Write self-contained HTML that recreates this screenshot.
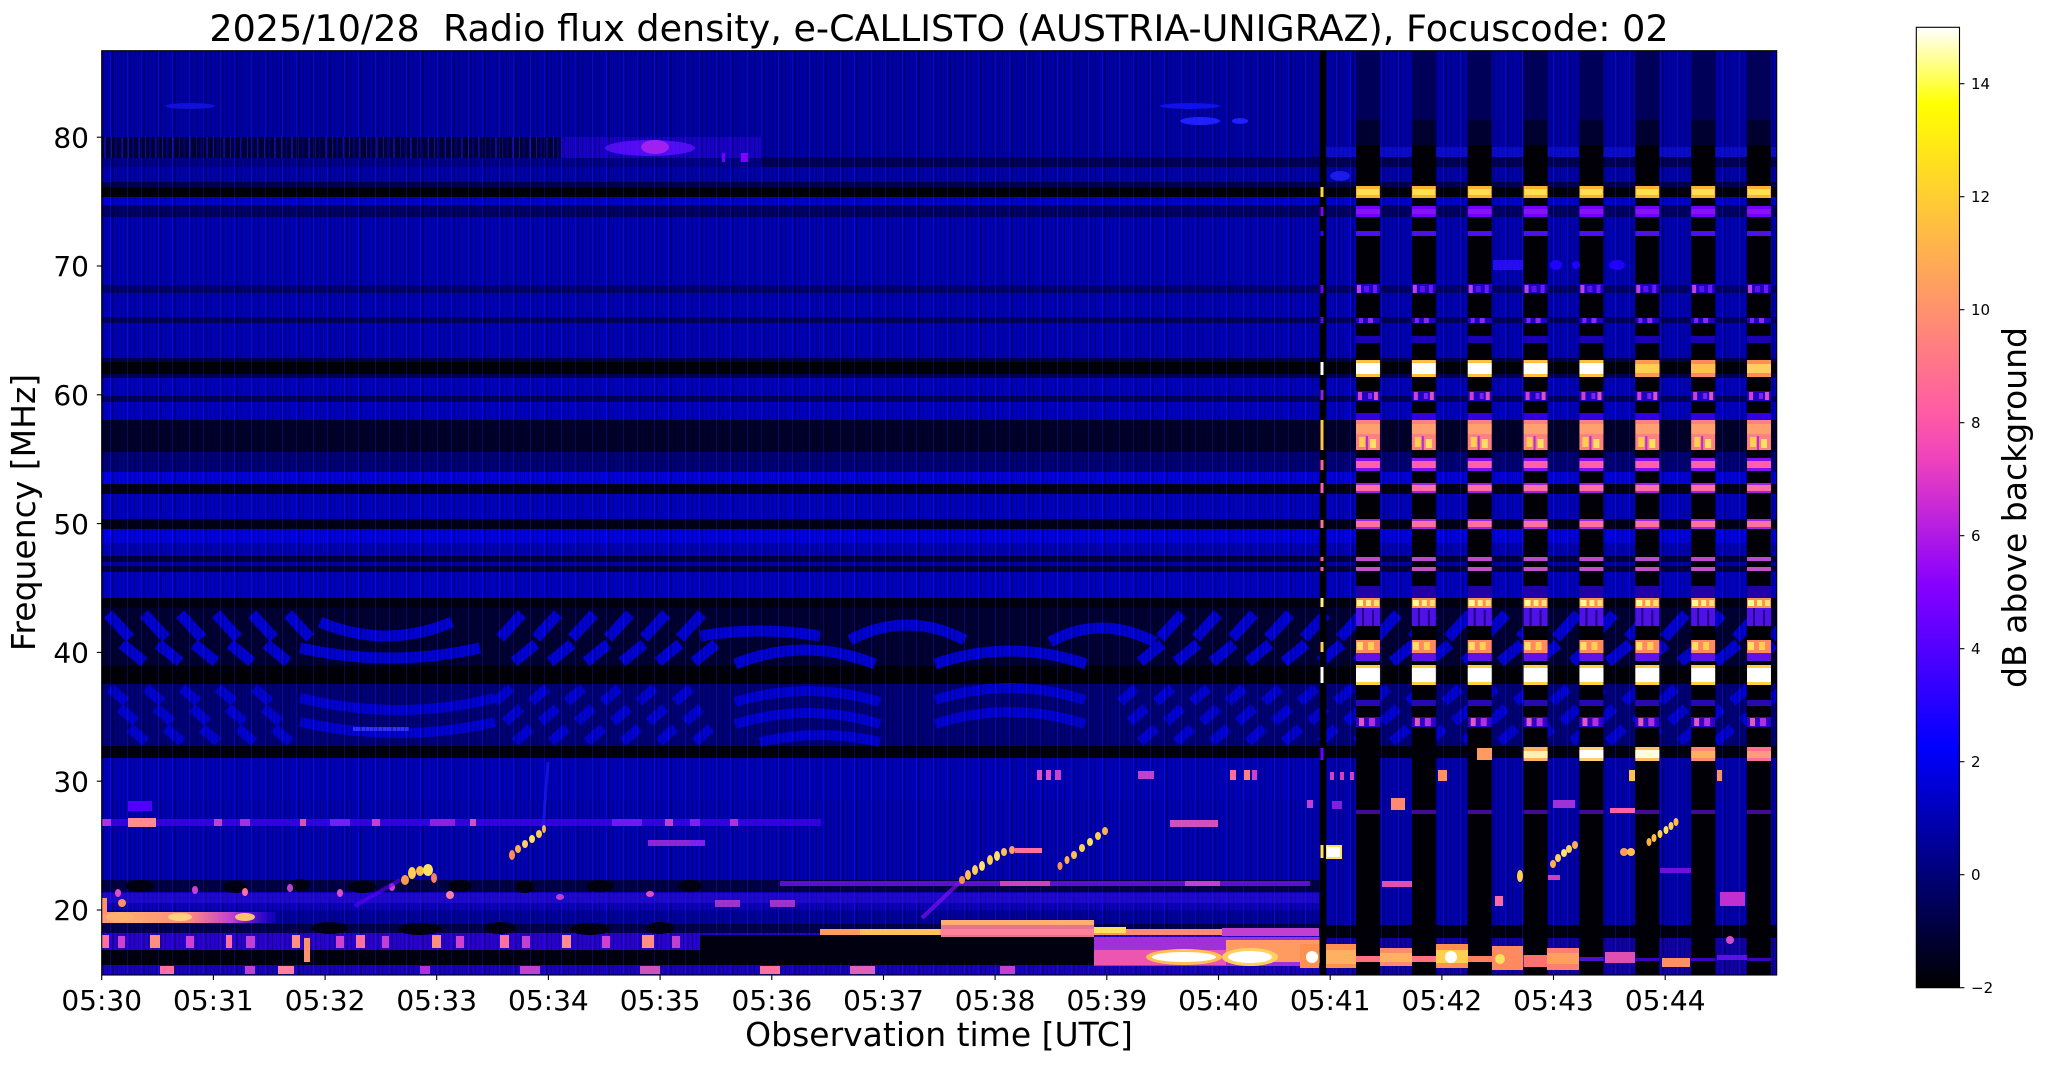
<!DOCTYPE html>
<html><head><meta charset="utf-8"><style>html,body{margin:0;padding:0;background:#fff}svg{display:block}</style></head>
<body>
<svg xmlns="http://www.w3.org/2000/svg" width="2047" height="1067" viewBox="0 0 2047 1067" font-family="'DejaVu Sans','Liberation Sans',sans-serif">
<rect width="2047" height="1067" fill="#fff"/>
<defs>
<clipPath id="pc"><rect x="101.7" y="50.7" width="1675" height="924.3"/></clipPath>
<linearGradient id="cbg" x1="0" y1="1" x2="0" y2="0">
<stop offset="0" stop-color="#000000"/><stop offset=".05" stop-color="#000033"/><stop offset=".1" stop-color="#000066"/><stop offset=".15" stop-color="#000099"/><stop offset=".2" stop-color="#0000cc"/><stop offset=".25" stop-color="#0000ff"/><stop offset=".3" stop-color="#2800ff"/><stop offset=".35" stop-color="#5000ff"/><stop offset=".4" stop-color="#7800ff"/><stop offset=".42" stop-color="#8700ff"/><stop offset=".45" stop-color="#9f0fef"/><stop offset=".5" stop-color="#c729d6"/><stop offset=".55" stop-color="#ef42bd"/><stop offset=".6" stop-color="#ff5ca3"/><stop offset=".65" stop-color="#ff758a"/><stop offset=".7" stop-color="#ff8f70"/><stop offset=".75" stop-color="#ffa857"/><stop offset=".8" stop-color="#ffc23d"/><stop offset=".85" stop-color="#ffdb24"/><stop offset=".9" stop-color="#fff50a"/><stop offset=".92" stop-color="#ffff00"/><stop offset=".96" stop-color="#ffff80"/><stop offset="1" stop-color="#ffffff"/>
</linearGradient>
<linearGradient id="g20" x1="0" y1="0" x2="1" y2="0">
<stop offset="0" stop-color="#ff9a78"/><stop offset=".2" stop-color="#ffa870"/><stop offset=".5" stop-color="#ff8a80"/><stop offset=".75" stop-color="#c040d0"/><stop offset="1" stop-color="#3000ff" stop-opacity=".3"/>
</linearGradient>
<pattern id="vs" x="0" y="0" width="31" height="10" patternUnits="userSpaceOnUse">
<rect x="1" width="1" height="10" fill="#000" fill-opacity=".35"/><rect x="5" width="2" height="10" fill="#000" fill-opacity=".22"/><rect x="10" width="1" height="10" fill="#000" fill-opacity=".4"/><rect x="14" width="1" height="10" fill="#000" fill-opacity=".18"/><rect x="19" width="2" height="10" fill="#000" fill-opacity=".3"/><rect x="24" width="1" height="10" fill="#000" fill-opacity=".38"/><rect x="28" width="1" height="10" fill="#000" fill-opacity=".2"/><rect x="3" width="1" height="10" fill="#2a2aff" fill-opacity=".25"/><rect x="17" width="1" height="10" fill="#2a2aff" fill-opacity=".2"/>
</pattern>
<pattern id="bs" x="0" y="0" width="17" height="10" patternUnits="userSpaceOnUse">
<rect x="2" width="2" height="10" fill="#1010d0" fill-opacity=".7"/><rect x="9" width="1" height="10" fill="#2020ff" fill-opacity=".5"/><rect x="13" width="2" height="10" fill="#0000b0" fill-opacity=".6"/>
</pattern>
<pattern id="kp" x="1356" y="0" width="55.86" height="1067" patternUnits="userSpaceOnUse">
<rect x="0" y="50" width="24" height="70" fill="#000058"/>
<rect x="0" y="120" width="24" height="25" fill="#000030"/>
<rect x="0" y="145" width="24" height="831" fill="#000006"/>
<rect x="0" y="186" width="24" height="12" fill="#ffb030"/><rect x="1" y="189" width="22" height="6" fill="#ffe050"/>
<rect x="0" y="206" width="24" height="11" fill="#7000ff"/><rect x="0" y="209" width="24" height="5" fill="#8a10f8"/>
<rect x="0" y="231" width="24" height="5" fill="#4a10f0"/>
<rect x="0" y="284" width="24" height="9" fill="#2000c0"/><rect x="1" y="285" width="4" height="8" fill="#c040e0"/><rect x="8" y="286" width="5" height="6" fill="#6010f0"/><rect x="17" y="285" width="4" height="8" fill="#7018f0"/>
<rect x="0" y="318" width="24" height="5" fill="#2000c0"/><rect x="3" y="318" width="4" height="5" fill="#8020f0"/><rect x="12" y="318" width="5" height="5" fill="#9028e8"/>
<rect x="0" y="336" width="24" height="7" fill="#1a00b0"/>
<rect x="0" y="360" width="24" height="17" fill="#ffc040"/><rect x="0" y="363" width="24" height="11" fill="#ffffff"/>
<rect x="0" y="391" width="24" height="10" fill="#2000c0"/><rect x="2" y="392" width="4" height="8" fill="#d040d0"/><rect x="12" y="393" width="4" height="6" fill="#8020f0"/><rect x="18" y="392" width="4" height="8" fill="#e050c0"/>
<rect x="0" y="413" width="24" height="8" fill="#3000e0"/>
<rect x="0" y="420" width="24" height="30" fill="#ff8080"/><rect x="0" y="424" width="24" height="10" fill="#ffa070"/><rect x="3" y="437" width="6" height="10" fill="#ffd050"/><rect x="14" y="439" width="6" height="9" fill="#ffe060"/><rect x="10" y="436" width="2" height="14" fill="#b030d0"/>
<rect x="0" y="458" width="24" height="13" fill="#8010f0"/><rect x="0" y="461" width="24" height="7" fill="#ff60a8"/>
<rect x="0" y="483" width="24" height="10" fill="#a020e0"/><rect x="0" y="485" width="24" height="6" fill="#ff70a0"/>
<rect x="0" y="519" width="24" height="10" fill="#a028e0"/><rect x="0" y="521" width="24" height="6" fill="#ff70a0"/>
<rect x="0" y="557" width="24" height="4" fill="#c048d0"/><rect x="0" y="567" width="24" height="4" fill="#c050c8"/>
<rect x="0" y="586" width="24" height="12" fill="#2a00d0" fill-opacity=".8"/>
<rect x="0" y="598" width="24" height="10" fill="#ff9050"/><rect x="1" y="600" width="6" height="6" fill="#ffff90"/><rect x="10" y="600" width="5" height="6" fill="#fff080"/><rect x="18" y="600" width="5" height="6" fill="#ffe070"/>
<rect x="0" y="608" width="24" height="18" fill="#5010e8"/><rect x="6" y="608" width="2" height="18" fill="#200080"/><rect x="16" y="610" width="2" height="16" fill="#200080"/>
<rect x="0" y="640" width="24" height="13" fill="#ff8a60"/><rect x="1" y="642" width="6" height="8" fill="#ffe060"/><rect x="12" y="642" width="6" height="8" fill="#ffd050"/>
<rect x="0" y="653" width="24" height="8" fill="#6010e8"/>
<rect x="0" y="665" width="24" height="20" fill="#ffd040"/><rect x="0" y="668" width="24" height="14" fill="#ffffff"/>
<rect x="0" y="700" width="24" height="6" fill="#2808b0"/>
<rect x="0" y="717" width="24" height="10" fill="#3000c8"/><rect x="3" y="718" width="5" height="8" fill="#e058c0"/><rect x="13" y="718" width="6" height="8" fill="#b030e0"/>
<rect x="0" y="810" width="24" height="4" fill="#6010d0" fill-opacity=".7"/>
<rect x="0" y="958" width="24" height="3" fill="#4000c0"/>
</pattern>
</defs>

<g clip-path="url(#pc)">
<!-- base bands -->
<rect x="101" y="50" width="1676" height="926" fill="#0000b8"/>
<rect x="101" y="50" width="1676" height="87" fill="#0000a8"/>
<rect x="101" y="137" width="460" height="21" fill="#00003c"/>
<rect x="101" y="137" width="460" height="21" fill="url(#bs)"/>
<rect x="561" y="137" width="200" height="21" fill="#1800c8"/>
<rect x="761" y="137" width="1016" height="21" fill="#0000a8"/>
<rect x="101" y="158" width="1676" height="9" fill="#00008c"/>
<rect x="761" y="157" width="1016" height="10" fill="#000058"/>
<rect x="101" y="167" width="1676" height="15" fill="#0000ac"/>
<rect x="101" y="182" width="1676" height="5" fill="#000050"/>
<rect x="101" y="187" width="1676" height="10" fill="#000008"/>
<rect x="101" y="197" width="1676" height="8" fill="#0000d4"/>
<rect x="101" y="205" width="1676" height="12" fill="#000068"/>
<rect x="101" y="217" width="1676" height="68" fill="#0000b4"/>
<rect x="101" y="285" width="1676" height="8" fill="#000070"/>
<rect x="101" y="293" width="1676" height="24" fill="#0000b8"/>
<rect x="101" y="317" width="1676" height="6" fill="#000060"/>
<rect x="101" y="323" width="1676" height="35" fill="#0000b8"/>
<rect x="101" y="358" width="1676" height="4" fill="#000050"/>
<rect x="101" y="362" width="1676" height="12" fill="#000008"/>
<rect x="101" y="374" width="1676" height="4" fill="#000050"/>
<rect x="101" y="378" width="1676" height="18" fill="#0000c0"/>
<rect x="101" y="396" width="1676" height="6" fill="#000060"/>
<rect x="101" y="402" width="1676" height="18" fill="#0000c4"/>
<rect x="101" y="420" width="1676" height="32" fill="#00002c"/>
<rect x="101" y="452" width="1676" height="20" fill="#000078"/>
<rect x="101" y="472" width="1676" height="12" fill="#0000e0"/>
<rect x="101" y="484" width="1676" height="10" fill="#000018"/>
<rect x="101" y="494" width="1676" height="25" fill="#0000c0"/>
<rect x="101" y="519" width="1676" height="10" fill="#000018"/>
<rect x="101" y="529" width="1676" height="14" fill="#0000e4"/>
<rect x="101" y="543" width="1676" height="13" fill="#0000b8"/>
<rect x="101" y="556" width="1676" height="6" fill="#000040"/>
<rect x="101" y="562" width="1676" height="4" fill="#0000b0"/>
<rect x="101" y="566" width="1676" height="6" fill="#000040"/>
<rect x="101" y="572" width="1676" height="26" fill="#0000c4"/>
<rect x="101" y="598" width="1676" height="10" fill="#000010"/>
<rect x="101" y="608" width="1676" height="58" fill="#000034"/>
<rect x="101" y="666" width="1676" height="18" fill="#000006"/>
<rect x="101" y="684" width="1676" height="62" fill="#00007a"/>
<rect x="101" y="746" width="1676" height="12" fill="#000010"/>
<rect x="101" y="758" width="1676" height="42" fill="#0000bc"/>
<rect x="101" y="800" width="1676" height="80" fill="#0000b4"/>
<rect x="101" y="880" width="1676" height="12" fill="#000048"/>
<rect x="101" y="892" width="1676" height="18" fill="#0c00c0"/>
<rect x="101" y="910" width="1676" height="14" fill="#0000a0"/>
<rect x="101" y="924" width="1676" height="9" fill="#000050"/>
<rect x="101" y="933" width="1676" height="17" fill="#2800d0"/>
<rect x="101" y="950" width="1676" height="15" fill="#000010"/>
<rect x="101" y="965" width="1676" height="11" fill="#1800c0"/>

<!-- arcs region 1 -->
<path fill="none" stroke="#0000d8" stroke-width="11" d="M108,614 L130,638 M144,614 L166,638 M180,614 L202,638 M216,614 L238,638 M252,614 L274,638 M288,614 L310,638
M122,644 L144,662 M158,644 L180,662 M194,644 L216,662 M230,644 L252,662 M266,644 L288,662
M320,622 Q386,650 452,622 M300,648 Q390,668 480,648
M500,638 L522,614 M536,638 L558,614 M572,638 L594,614 M608,638 L630,614 M644,638 L666,614 M680,638 L702,614
M514,662 L536,644 M550,662 L572,644 M586,662 L608,644 M622,662 L644,644 M658,662 L680,644 M694,662 L716,644
M700,636 Q760,626 820,636 M850,640 Q907,610 965,640 M1050,642 Q1100,614 1155,642
M735,664 Q805,636 875,664 M935,664 Q1010,638 1086,664
M1160,638 L1182,614 M1196,638 L1218,614 M1232,638 L1254,614 M1268,638 L1290,614 M1304,638 L1326,614 M1340,638 L1362,614 M1376,638 L1398,614 M1412,638 L1434,614 M1448,638 L1470,614 M1484,638 L1506,614 M1520,638 L1542,614 M1556,638 L1578,614 M1592,638 L1614,614 M1628,638 L1650,614 M1664,638 L1686,614 M1700,638 L1722,614 M1736,638 L1758,614 M1772,638 L1794,614
M1140,662 L1162,644 M1176,662 L1198,644 M1212,662 L1234,644 M1248,662 L1270,644 M1284,662 L1306,644 M1320,662 L1342,644 M1356,662 L1378,644 M1392,662 L1414,644 M1428,662 L1450,644 M1464,662 L1486,644 M1500,662 L1522,644 M1536,662 L1558,644 M1572,662 L1594,644 M1608,662 L1630,644 M1644,662 L1666,644 M1680,662 L1702,644 M1716,662 L1738,644 M1752,662 L1774,644"/>
<!-- arcs region 2 -->
<path fill="none" stroke="#0000d8" stroke-width="10" d="M110,688 L126,702 M146,688 L162,702 M182,688 L198,702 M218,688 L234,702 M254,688 L270,702
M120,708 L136,722 M156,708 L172,722 M192,708 L208,722 M228,708 L244,722 M264,708 L280,722
M130,728 L146,742 M166,728 L182,742 M202,728 L218,742 M238,728 L254,742 M274,728 L290,742
M300,698 Q400,722 495,698 M300,722 Q400,744 495,722
M495,702 L511,688 M531,702 L547,688 M567,702 L583,688 M603,702 L619,688 M639,702 L655,688 M675,702 L691,688
M505,722 L521,708 M541,722 L557,708 M577,722 L593,708 M613,722 L629,708 M649,722 L665,708 M685,722 L701,708
M515,742 L531,728 M551,742 L567,728 M587,742 L603,728 M623,742 L639,728 M659,742 L675,728 M695,742 L711,728
M735,702 Q808,680 880,702 M935,700 Q1010,676 1085,700 M735,724 Q808,702 880,724 M935,724 Q1010,700 1085,724 M760,742 Q820,728 880,742
M1120,702 L1136,688 M1156,702 L1172,688 M1192,702 L1208,688 M1228,702 L1244,688 M1264,702 L1280,688 M1300,702 L1316,688 M1336,702 L1352,688 M1372,702 L1388,688 M1408,702 L1424,688 M1444,702 L1460,688 M1480,702 L1496,688 M1516,702 L1532,688 M1552,702 L1568,688 M1588,702 L1604,688 M1624,702 L1640,688 M1660,702 L1676,688 M1696,702 L1712,688 M1732,702 L1748,688 M1768,702 L1784,688
M1130,722 L1146,708 M1166,722 L1182,708 M1202,722 L1218,708 M1238,722 L1254,708 M1274,722 L1290,708 M1310,722 L1326,708 M1346,722 L1362,708 M1382,722 L1398,708 M1418,722 L1434,708 M1454,722 L1470,708 M1490,722 L1506,708 M1526,722 L1542,708 M1562,722 L1578,708 M1598,722 L1614,708 M1634,722 L1650,708 M1670,722 L1686,708 M1706,722 L1722,708 M1742,722 L1758,708
M1140,742 L1156,728 M1176,742 L1192,728 M1212,742 L1228,728 M1248,742 L1264,728 M1284,742 L1300,728 M1320,742 L1336,728 M1356,742 L1372,728 M1392,742 L1408,728 M1428,742 L1444,728 M1464,742 L1480,728 M1500,742 L1516,728 M1536,742 L1552,728 M1572,742 L1588,728 M1608,742 L1624,728 M1644,742 L1660,728 M1680,742 L1696,728 M1716,742 L1732,728 M1752,742 L1768,728"/>
<rect x="353" y="727" width="56" height="4" fill="#3030ff"/>

<!-- streak overlay -->
<rect x="101" y="50" width="1676" height="926" fill="url(#vs)"/>

<!-- top features -->
<ellipse cx="650" cy="148" rx="45" ry="8" fill="#6010ff" fill-opacity=".8"/>
<ellipse cx="655" cy="147" rx="14" ry="7" fill="#a020f0"/>
<rect x="741" y="153" width="7" height="9" fill="#8000ff"/>
<rect x="722" y="153" width="3" height="9" fill="#7000ff"/>
<ellipse cx="1190" cy="106" rx="30" ry="3" fill="#1010e8"/>
<ellipse cx="1200" cy="121" rx="20" ry="4" fill="#2020ff"/>
<ellipse cx="1240" cy="121" rx="8" ry="3" fill="#2020ff"/>
<ellipse cx="190" cy="106" rx="25" ry="3" fill="#1010d8"/>

<!-- lower-left features -->
<g fill="#000010">
<ellipse cx="140" cy="886" rx="14" ry="6"/><ellipse cx="235" cy="887" rx="12" ry="6"/><ellipse cx="300" cy="885" rx="10" ry="6"/><ellipse cx="362" cy="887" rx="14" ry="6"/><ellipse cx="460" cy="886" rx="12" ry="6"/><ellipse cx="525" cy="887" rx="10" ry="6"/><ellipse cx="600" cy="886" rx="14" ry="6"/><ellipse cx="690" cy="886" rx="12" ry="6"/>
<ellipse cx="330" cy="928" rx="18" ry="6"/><ellipse cx="420" cy="929" rx="22" ry="6"/><ellipse cx="500" cy="928" rx="16" ry="6"/><ellipse cx="590" cy="929" rx="20" ry="6"/><ellipse cx="660" cy="928" rx="14" ry="6"/>
</g>
<rect x="101" y="819" width="720" height="7" fill="#4000e8" fill-opacity=".8"/>
<rect x="101" y="819" width="10" height="7" fill="#b030e0"/>
<rect x="128" y="818" width="28" height="9" fill="#ff8a90"/>
<rect x="214" y="819" width="8" height="7" fill="#c040d0"/>
<rect x="240" y="819" width="10" height="7" fill="#a030e0"/>
<rect x="300" y="819" width="6" height="7" fill="#e050b0"/>
<rect x="330" y="819" width="20" height="7" fill="#7020f0"/>
<rect x="372" y="819" width="8" height="7" fill="#c040d0"/>
<rect x="430" y="819" width="25" height="7" fill="#9020e0"/>
<rect x="470" y="819" width="6" height="7" fill="#d050c0"/>
<rect x="612" y="819" width="30" height="7" fill="#7018f0"/>
<rect x="665" y="819" width="8" height="7" fill="#c040d0"/>
<rect x="690" y="819" width="10" height="7" fill="#8020f0"/>
<rect x="730" y="819" width="8" height="7" fill="#b030e0"/>
<rect x="128" y="801" width="24" height="10" fill="#5000ff"/>
<rect x="648" y="840" width="42" height="6" fill="#b030e0" fill-opacity=".8"/>
<rect x="690" y="840" width="15" height="6" fill="#8020f0"/>
<rect x="101" y="893" width="1219" height="10" fill="#3010e0" fill-opacity=".5"/>
<ellipse cx="118" cy="893" rx="3" ry="4" fill="#e050c0"/><ellipse cx="195" cy="890" rx="3" ry="4" fill="#d040d0"/><ellipse cx="245" cy="892" rx="3" ry="4" fill="#ff70a0"/><ellipse cx="290" cy="888" rx="3" ry="4" fill="#c040d0"/><ellipse cx="340" cy="893" rx="3" ry="4" fill="#e050c0"/><ellipse cx="392" cy="887" rx="3" ry="4" fill="#d040d0"/><ellipse cx="450" cy="895" rx="4" ry="4" fill="#ff80a0"/><ellipse cx="560" cy="897" rx="4" ry="3" fill="#c040d0"/><ellipse cx="650" cy="894" rx="4" ry="3" fill="#e050c0"/>
<rect x="780" y="881" width="530" height="5" fill="#7010e8" fill-opacity=".85"/>
<rect x="1000" y="881" width="50" height="5" fill="#d040c0"/>
<rect x="1185" y="881" width="35" height="5" fill="#c040d0"/>
<rect x="715" y="900" width="25" height="7" fill="#c040d0" fill-opacity=".8"/>
<rect x="770" y="900" width="25" height="7" fill="#c040d0" fill-opacity=".8"/>
<!-- 20 MHz bright band -->
<rect x="101" y="912" width="175" height="11" fill="url(#g20)"/>
<ellipse cx="120" cy="917" rx="14" ry="5" fill="#ffb070"/>
<ellipse cx="180" cy="917" rx="12" ry="4" fill="#ffd080"/>
<ellipse cx="245" cy="917" rx="10" ry="4" fill="#ffc070"/>
<rect x="101" y="898" width="6" height="16" fill="#ff9070"/>
<ellipse cx="122" cy="903" rx="4" ry="4" fill="#ff9060"/>
<!-- 18 MHz spotty row -->
<rect x="101" y="935" width="8" height="13" fill="#ff70a0"/><rect x="118" y="936" width="7" height="12" fill="#d040d0"/><rect x="150" y="935" width="10" height="13" fill="#ff9080"/><rect x="186" y="936" width="8" height="12" fill="#d040d0"/><rect x="226" y="935" width="6" height="13" fill="#ff70a0"/><rect x="246" y="936" width="9" height="12" fill="#c040d0"/><rect x="292" y="935" width="8" height="13" fill="#ff9080"/><rect x="336" y="936" width="8" height="12" fill="#d040d0"/><rect x="356" y="935" width="9" height="13" fill="#ff70a0"/><rect x="382" y="936" width="7" height="12" fill="#c040d0"/><rect x="432" y="935" width="9" height="13" fill="#ff9080"/><rect x="456" y="936" width="8" height="12" fill="#d040d0"/><rect x="500" y="935" width="9" height="13" fill="#ff70a0"/><rect x="522" y="936" width="8" height="12" fill="#c040d0"/><rect x="562" y="935" width="9" height="13" fill="#ff8a90"/><rect x="602" y="936" width="8" height="12" fill="#d040d0"/><rect x="642" y="935" width="12" height="13" fill="#ff9080"/><rect x="672" y="936" width="8" height="12" fill="#c040d0"/>
<rect x="304" y="938" width="6" height="24" fill="#ff9070"/>
<rect x="160" y="966" width="14" height="8" fill="#ff70a0"/><rect x="245" y="966" width="10" height="8" fill="#c040d0"/><rect x="278" y="966" width="16" height="8" fill="#ff80a0"/><rect x="420" y="966" width="10" height="8" fill="#b030e0"/><rect x="520" y="966" width="20" height="8" fill="#c040d0"/><rect x="640" y="966" width="20" height="8" fill="#d050c0"/><rect x="760" y="966" width="20" height="8" fill="#ff70a0"/><rect x="850" y="966" width="25" height="8" fill="#e060c0"/><rect x="1000" y="966" width="15" height="8" fill="#c040d0"/>
<!-- bursts -->
<path d="M355,906 L400,880" stroke="#6000ff" stroke-width="4" stroke-opacity=".6"/>
<ellipse cx="405" cy="880" rx="4" ry="5" fill="#ff9a50"/><ellipse cx="412" cy="873" rx="4" ry="6" fill="#ffd050"/><ellipse cx="420" cy="871" rx="4" ry="5" fill="#ffc040"/><ellipse cx="428" cy="870" rx="5" ry="6" fill="#ffe060"/><ellipse cx="434" cy="878" rx="3" ry="5" fill="#ff8060"/>
<path d="M543,830 L548,762" stroke="#2020ff" stroke-width="3" stroke-opacity=".6"/>
<ellipse cx="512" cy="855" rx="3" ry="5" fill="#ff9050"/><ellipse cx="518" cy="849" rx="3" ry="4" fill="#ffb050"/><ellipse cx="525" cy="844" rx="3" ry="4" fill="#ffd060"/><ellipse cx="532" cy="839" rx="3" ry="4" fill="#ffe060"/><ellipse cx="539" cy="834" rx="3" ry="4" fill="#ffd050"/><ellipse cx="544" cy="829" rx="2" ry="4" fill="#ffb050"/>
<path d="M922,918 L960,882" stroke="#8010f0" stroke-width="4" stroke-opacity=".7"/>
<ellipse cx="962" cy="880" rx="3" ry="4" fill="#ff9050"/><ellipse cx="968" cy="875" rx="3" ry="5" fill="#ffc050"/><ellipse cx="975" cy="870" rx="3" ry="5" fill="#ffd060"/><ellipse cx="982" cy="866" rx="3" ry="5" fill="#ffe070"/><ellipse cx="990" cy="860" rx="3" ry="5" fill="#ffd050"/><ellipse cx="997" cy="856" rx="3" ry="5" fill="#ffe070"/><ellipse cx="1004" cy="852" rx="3" ry="4" fill="#ffc050"/><ellipse cx="1012" cy="850" rx="3" ry="4" fill="#ff9a60"/>
<rect x="1015" y="848" width="27" height="5" fill="#ff70a0"/>
<ellipse cx="1060" cy="866" rx="2.5" ry="4" fill="#ff9050"/><ellipse cx="1067" cy="860" rx="2.5" ry="4" fill="#ffb050"/><ellipse cx="1074" cy="855" rx="3" ry="4" fill="#ffc050"/><ellipse cx="1082" cy="848" rx="3" ry="4" fill="#ffd060"/><ellipse cx="1090" cy="842" rx="3" ry="4" fill="#ffe060"/><ellipse cx="1098" cy="836" rx="3" ry="4" fill="#ffd050"/><ellipse cx="1105" cy="831" rx="3" ry="4" fill="#ffb050"/>
<rect x="1037" y="770" width="5" height="10" fill="#e050c0"/><rect x="1046" y="770" width="5" height="10" fill="#e050c0"/><rect x="1055" y="770" width="6" height="10" fill="#d040c0"/>
<rect x="1138" y="771" width="16" height="8" fill="#c040d0"/>
<rect x="1230" y="770" width="6" height="10" fill="#ff6aa0"/><rect x="1244" y="770" width="6" height="10" fill="#ff8080"/><rect x="1252" y="770" width="5" height="10" fill="#d040c0"/>
<rect x="1170" y="820" width="48" height="7" fill="#d050c0"/>
<rect x="1307" y="800" width="6" height="8" fill="#c040d0"/>
<!-- 16-18 MHz region 05:36-05:41 -->
<rect x="700" y="935" width="394" height="28" fill="#000010"/>
<rect x="820" y="929" width="402" height="6" fill="#ff9a60"/>
<rect x="860" y="929" width="80" height="6" fill="#ffc060"/>
<rect x="941" y="920" width="153" height="17" fill="#ff80a0" fill-opacity=".9"/>
<rect x="941" y="920" width="153" height="5" fill="#ffb070"/>
<rect x="1094" y="927" width="32" height="6" fill="#ffe060"/>
<rect x="1126" y="929" width="96" height="6" fill="#ff8a70"/>
<rect x="1222" y="928" width="97" height="8" fill="#c040d0"/>
<rect x="1094" y="937" width="226" height="29" fill="#a030d8"/>
<rect x="1094" y="950" width="132" height="15" fill="#ff60a8" fill-opacity=".8"/>
<rect x="1226" y="940" width="94" height="22" fill="#ff9a60"/>
<ellipse cx="1184" cy="957" rx="38" ry="8" fill="#ffc050"/><ellipse cx="1184" cy="957" rx="32" ry="5" fill="#ffffff"/>
<ellipse cx="1250" cy="957" rx="28" ry="9" fill="#ffd060"/><ellipse cx="1250" cy="957" rx="22" ry="6" fill="#ffffff"/>
<circle cx="1312" cy="958" r="9" fill="#ffe070"/><circle cx="1312" cy="958" r="6" fill="#ffffff"/>

<!-- right region lower base -->
<rect x="1326" y="758" width="451" height="218" fill="#0000b0"/>
<rect x="1326" y="925" width="451" height="13" fill="#000010"/>
<rect x="1326" y="938" width="451" height="38" fill="#1000a8"/>
<rect x="1326" y="147" width="451" height="10" fill="#1010e0" fill-opacity=".6"/>
<rect x="1326" y="758" width="451" height="218" fill="url(#vs)"/>

<!-- black stripes -->
<rect x="1356" y="50" width="415" height="926" fill="url(#kp)"/>
<!-- stripe overrides: 62 MHz -->
<rect x="1635.3" y="360" width="24" height="17" fill="#ff9a50"/><rect x="1635.3" y="364" width="24" height="9" fill="#ffd050"/>
<rect x="1691.2" y="360" width="24" height="17" fill="#ff8a60"/><rect x="1691.2" y="364" width="24" height="9" fill="#ffc050"/>
<rect x="1747" y="360" width="24" height="17" fill="#ff9050"/><rect x="1747" y="364" width="24" height="9" fill="#ffd060"/>
<!-- 32 MHz -->
<rect x="1477" y="748" width="15" height="12" fill="#ff9a60"/>
<rect x="1523.6" y="747" width="24" height="14" fill="#ffb060"/><rect x="1523.6" y="751" width="24" height="7" fill="#fff0b0"/>
<rect x="1579.4" y="747" width="24" height="14" fill="#ffd070"/><rect x="1579.4" y="750" width="24" height="8" fill="#ffffff"/>
<rect x="1635.3" y="747" width="24" height="14" fill="#ffc060"/><rect x="1635.3" y="750" width="24" height="8" fill="#ffffe0"/>
<rect x="1691.2" y="747" width="24" height="14" fill="#ff8a70"/><rect x="1691.2" y="751" width="24" height="7" fill="#ffb060"/>
<rect x="1747" y="747" width="24" height="14" fill="#ff7090"/><rect x="1747" y="751" width="24" height="7" fill="#ff9a80"/>

<!-- vertical line 05:41 -->
<rect x="1319.5" y="50" width="6.5" height="926" fill="#000004"/>
<g>
<rect x="1320.5" y="187" width="3" height="10" fill="#ffd040"/><rect x="1320.5" y="207" width="3" height="9" fill="#8000ff"/><rect x="1320.5" y="231" width="3" height="5" fill="#4000ff"/><rect x="1320.5" y="285" width="3" height="8" fill="#7000ff"/><rect x="1320.5" y="317" width="3" height="6" fill="#6000ff"/><rect x="1320.5" y="362" width="3" height="13" fill="#ffffff"/><rect x="1320.5" y="390" width="3" height="10" fill="#9020f0"/><rect x="1320.5" y="420" width="3" height="30" fill="#ffc050"/><rect x="1320.5" y="460" width="3" height="10" fill="#ff60a0"/><rect x="1320.5" y="483" width="3" height="10" fill="#ff60a0"/><rect x="1320.5" y="520" width="3" height="8" fill="#ff70a0"/><rect x="1320.5" y="557" width="3" height="4" fill="#ff60a0"/><rect x="1320.5" y="567" width="3" height="4" fill="#ff60a0"/><rect x="1320.5" y="598" width="3" height="9" fill="#fff080"/><rect x="1320.5" y="642" width="3" height="10" fill="#ffd050"/><rect x="1320.5" y="667" width="3" height="16" fill="#ffffff"/><rect x="1320.5" y="748" width="3" height="12" fill="#7000ff"/><rect x="1320.5" y="845" width="3" height="13" fill="#ffe060"/>
</g>

<!-- right stripe features -->
<rect x="1300" y="944" width="19" height="24" fill="#ff9050"/>
<circle cx="1312" cy="957" r="6" fill="#ffffff"/>
<rect x="1326" y="944" width="30" height="24" fill="#ff9050"/><rect x="1326" y="950" width="30" height="14" fill="#ffb060"/>
<rect x="1356" y="956" width="24" height="6" fill="#ff7080"/>
<rect x="1380" y="948" width="32" height="18" fill="#ff8a70"/><rect x="1380" y="953" width="32" height="9" fill="#ffb060"/>
<rect x="1412" y="956" width="24" height="6" fill="#ff7080"/>
<rect x="1436" y="944" width="32" height="24" fill="#ff9050"/><rect x="1436" y="950" width="32" height="13" fill="#ffd050"/><circle cx="1451" cy="957" r="6" fill="#ffffff"/>
<rect x="1468" y="956" width="24" height="6" fill="#ff8060"/>
<rect x="1492" y="946" width="31" height="24" fill="#ff8a60"/><circle cx="1500" cy="959" r="5" fill="#ffe060"/>
<rect x="1523.6" y="955" width="24" height="12" fill="#ff7070"/>
<rect x="1547" y="948" width="32" height="22" fill="#ff8070"/><rect x="1547" y="953" width="32" height="11" fill="#ffa060"/>
<rect x="1579.4" y="957" width="24" height="4" fill="#5010d0"/>
<rect x="1605" y="952" width="30" height="11" fill="#e050b0"/>
<rect x="1662" y="958" width="28" height="9" fill="#ff9060"/>
<rect x="1717" y="955" width="30" height="5" fill="#6010e0"/>
<rect x="1330" y="772" width="4" height="8" fill="#d040c0"/><rect x="1340" y="772" width="4" height="8" fill="#d040c0"/><rect x="1350" y="772" width="4" height="8" fill="#d040c0"/>
<rect x="1332" y="801" width="10" height="8" fill="#8020e0"/>
<rect x="1326" y="845" width="16" height="14" fill="#ffe060"/><rect x="1327" y="847" width="13" height="10" fill="#ffffff"/>
<rect x="1391" y="798" width="14" height="12" fill="#ff8a70"/>
<rect x="1382" y="881" width="30" height="6" fill="#e050b0"/>
<rect x="1438" y="770" width="9" height="11" fill="#ff9060"/>
<ellipse cx="1520" cy="876" rx="3" ry="6" fill="#ffd040"/>
<rect x="1495" y="896" width="8" height="10" fill="#ff6aa0"/>
<rect x="1553" y="800" width="22" height="8" fill="#a030d8"/>
<ellipse cx="1553" cy="864" rx="3" ry="4" fill="#ffb050"/><ellipse cx="1558" cy="858" rx="3" ry="4" fill="#ffd060"/><ellipse cx="1564" cy="853" rx="3" ry="4" fill="#ffe070"/><ellipse cx="1569" cy="849" rx="3" ry="4" fill="#ffd060"/><ellipse cx="1575" cy="845" rx="3" ry="4" fill="#ffb050"/>
<rect x="1548" y="875" width="12" height="5" fill="#d040c0"/>
<rect x="1629" y="770" width="6" height="11" fill="#ffc050"/>
<rect x="1610" y="808" width="25" height="5" fill="#ff60a8"/>
<circle cx="1624" cy="852" r="4" fill="#ffa050"/><circle cx="1631" cy="852" r="4" fill="#ffc050"/>
<ellipse cx="1649" cy="842" rx="2.5" ry="4" fill="#ffb040"/><ellipse cx="1654" cy="838" rx="2.5" ry="4" fill="#ffc040"/><ellipse cx="1660" cy="834" rx="2.5" ry="4" fill="#ffd050"/><ellipse cx="1666" cy="830" rx="2.5" ry="4" fill="#ffe060"/><ellipse cx="1671" cy="826" rx="2.5" ry="4" fill="#ffd050"/><ellipse cx="1676" cy="822" rx="2.5" ry="4" fill="#ffc040"/>
<rect x="1660" y="868" width="31" height="5" fill="#7010e0"/>
<rect x="1717" y="770" width="5" height="11" fill="#ff9060"/>
<rect x="1720" y="892" width="25" height="14" fill="#c030d0"/>
<circle cx="1730" cy="940" r="4" fill="#d050c0"/>
<rect x="1493" y="260" width="30" height="10" fill="#3010ff" fill-opacity=".8"/>
<ellipse cx="1556" cy="265" rx="6" ry="5" fill="#2000ff"/><ellipse cx="1576" cy="265" rx="4" ry="4" fill="#2000ff"/><ellipse cx="1617" cy="265" rx="8" ry="5" fill="#2000ff"/>
<ellipse cx="1340" cy="176" rx="10" ry="5" fill="#2020ff" fill-opacity=".8"/>
</g>

<!-- axes frame -->
<rect x="101.7" y="50.7" width="1675" height="924.3" fill="none" stroke="#000" stroke-width="1.1"/>
<g stroke="#000" stroke-width="1.1">
<line x1="101.7" y1="975" x2="101.7" y2="980"/><line x1="213.4" y1="975" x2="213.4" y2="980"/><line x1="325.1" y1="975" x2="325.1" y2="980"/><line x1="436.7" y1="975" x2="436.7" y2="980"/><line x1="548.4" y1="975" x2="548.4" y2="980"/><line x1="660.1" y1="975" x2="660.1" y2="980"/><line x1="771.8" y1="975" x2="771.8" y2="980"/><line x1="883.5" y1="975" x2="883.5" y2="980"/><line x1="995.1" y1="975" x2="995.1" y2="980"/><line x1="1106.8" y1="975" x2="1106.8" y2="980"/><line x1="1218.5" y1="975" x2="1218.5" y2="980"/><line x1="1330.2" y1="975" x2="1330.2" y2="980"/><line x1="1441.9" y1="975" x2="1441.9" y2="980"/><line x1="1553.5" y1="975" x2="1553.5" y2="980"/><line x1="1665.2" y1="975" x2="1665.2" y2="980"/>
<line x1="96.8" y1="910" x2="101.7" y2="910"/><line x1="96.8" y1="781.2" x2="101.7" y2="781.2"/><line x1="96.8" y1="652.4" x2="101.7" y2="652.4"/><line x1="96.8" y1="523.6" x2="101.7" y2="523.6"/><line x1="96.8" y1="394.8" x2="101.7" y2="394.8"/><line x1="96.8" y1="266" x2="101.7" y2="266"/><line x1="96.8" y1="137.2" x2="101.7" y2="137.2"/>
</g>
<g font-size="28" fill="#000" text-anchor="middle">
<text x="101.7" y="1010">05:30</text><text x="213.4" y="1010">05:31</text><text x="325.1" y="1010">05:32</text><text x="436.7" y="1010">05:33</text><text x="548.4" y="1010">05:34</text><text x="660.1" y="1010">05:35</text><text x="771.8" y="1010">05:36</text><text x="883.5" y="1010">05:37</text><text x="995.1" y="1010">05:38</text><text x="1106.8" y="1010">05:39</text><text x="1218.5" y="1010">05:40</text><text x="1330.2" y="1010">05:41</text><text x="1441.9" y="1010">05:42</text><text x="1553.5" y="1010">05:43</text><text x="1665.2" y="1010">05:44</text>
</g>
<g font-size="28" fill="#000" text-anchor="end">
<text x="89" y="920.2">20</text><text x="89" y="791.4">30</text><text x="89" y="662.6">40</text><text x="89" y="533.8">50</text><text x="89" y="405">60</text><text x="89" y="276.2">70</text><text x="89" y="147.4">80</text>
</g>
<text x="939" y="41" font-size="36.5" text-anchor="middle" fill="#000">2025/10/28&#160; Radio flux density, e-CALLISTO (AUSTRIA-UNIGRAZ), Focuscode: 02</text>
<text x="939" y="1046" font-size="33" text-anchor="middle" fill="#000">Observation time [UTC]</text>
<text transform="translate(35,512.5) rotate(-90)" font-size="33" text-anchor="middle" fill="#000">Frequency [MHz]</text>

<!-- colorbar -->
<rect x="1916.3" y="27.3" width="43.2" height="960.4" fill="url(#cbg)"/>
<rect x="1916.3" y="27.3" width="43.2" height="960.4" fill="none" stroke="#000" stroke-width="1.1"/>
<g stroke="#000" stroke-width="1.1">
<line x1="1959.5" y1="987.7" x2="1964.4" y2="987.7"/><line x1="1959.5" y1="874.7" x2="1964.4" y2="874.7"/><line x1="1959.5" y1="761.7" x2="1964.4" y2="761.7"/><line x1="1959.5" y1="648.7" x2="1964.4" y2="648.7"/><line x1="1959.5" y1="535.7" x2="1964.4" y2="535.7"/><line x1="1959.5" y1="422.7" x2="1964.4" y2="422.7"/><line x1="1959.5" y1="309.7" x2="1964.4" y2="309.7"/><line x1="1959.5" y1="196.7" x2="1964.4" y2="196.7"/><line x1="1959.5" y1="83.7" x2="1964.4" y2="83.7"/>
</g>
<g font-size="15" fill="#000">
<text x="1971" y="993.2">−2</text><text x="1971" y="880.2">0</text><text x="1971" y="767.2">2</text><text x="1971" y="654.2">4</text><text x="1971" y="541.2">6</text><text x="1971" y="428.2">8</text><text x="1971" y="315.2">10</text><text x="1971" y="202.2">12</text><text x="1971" y="89.2">14</text>
</g>
<text transform="translate(2026,507.5) rotate(-90)" font-size="33" text-anchor="middle" fill="#000">dB above background</text>
</svg>
</body></html>
